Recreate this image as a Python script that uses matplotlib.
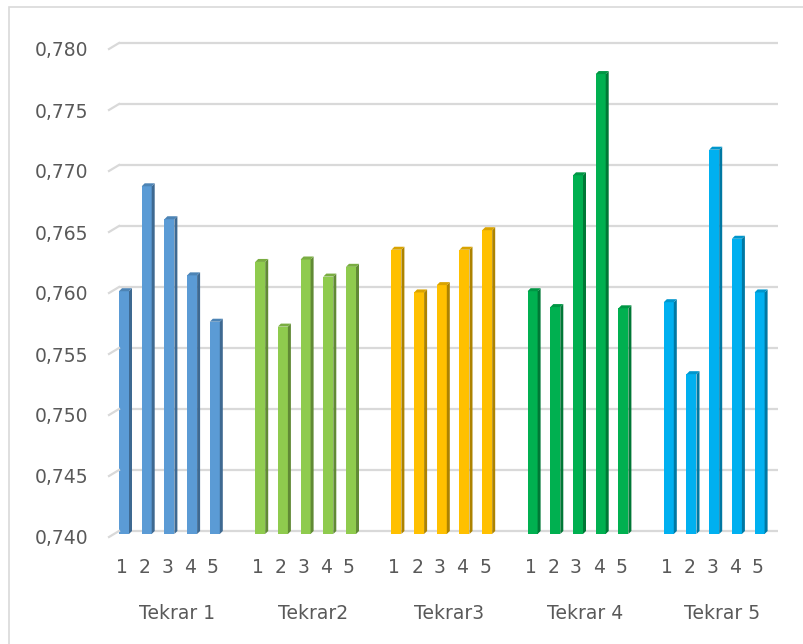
import matplotlib
matplotlib.use("Agg")
import matplotlib.pyplot as plt
import matplotlib.transforms as mtransforms
from matplotlib.patches import Polygon, Rectangle
import numpy as np

# ---- data -------------------------------------------------------------
groups = ["Tekrar 1", "Tekrar2", "Tekrar3", "Tekrar 4", "Tekrar 5"]
runs = ["1", "2", "3", "4", "5"]
tekrar1 = [0.7599, 0.7685, 0.7658, 0.7612, 0.7574]
tekrar2 = [0.7623, 0.7570, 0.7625, 0.7611, 0.7619]
tekrar3 = [0.7633, 0.7598, 0.7604, 0.7633, 0.7649]
tekrar4 = [0.7599, 0.7586, 0.7694, 0.7777, 0.7585]
tekrar5 = [0.7590, 0.7531, 0.7715, 0.7642, 0.7598]
series = [tekrar1, tekrar2, tekrar3, tekrar4, tekrar5]
yticks = [0.740, 0.745, 0.750, 0.755, 0.760, 0.765, 0.770, 0.775, 0.780]

face_colors = ["#5B9BD5", "#8FCB4E", "#FFC000", "#00B050", "#00B0F0"]

# ---- figure / axes geometry (pixels) ---------------------------------
W, H, DPI = 804, 644, 100
fig = plt.figure(figsize=(W / DPI, H / DPI), dpi=DPI)
fig.patch.set_facecolor("white")

ax_left, ax_right = 109, 778
ax_top, ax_bot = 46, 534
ax = fig.add_axes([ax_left / W, (H - ax_bot) / H,
                   (ax_right - ax_left) / W, (ax_bot - ax_top) / H])
ax.set_facecolor("none")
for sp in ax.spines.values():
    sp.set_visible(False)

ymin, ymax = 0.740, 0.780
slot_px = 22.7
first_px = 125.5
xlim = ((ax_left - first_px) / slot_px, (ax_right - first_px) / slot_px)
ax.set_xlim(*xlim)
ax.set_ylim(ymin, ymax)

# pixel -> data unit conversions
px_x = (xlim[1] - xlim[0]) / (ax_right - ax_left)
px_y = (ymax - ymin) / (ax_bot - ax_top)

TEXT = "#595959"
GRID = "#D9D9D9"
FONT = "DejaVu Sans"
FS = 13.5

# ---- back-wall gridlines with a short slanted floor edge ---------------
depth = 3  # px
up = mtransforms.ScaledTranslation(0, depth / DPI, fig.dpi_scale_trans)
down = mtransforms.ScaledTranslation(0, -depth / DPI, fig.dpi_scale_trans)
blend = mtransforms.blended_transform_factory(ax.transAxes, ax.transData)
wall_x = 10 / (ax_right - ax_left)
inv = fig.transFigure.inverted()
for v in yticks:
    ax.plot([wall_x, 1.0], [v, v], color=GRID, lw=1.6,
            transform=blend + up, clip_on=False, zorder=1,
            solid_capstyle="butt")
    # slant from front edge to back wall
    q0 = inv.transform((blend + down).transform((0, v)))
    q1 = inv.transform((blend + up).transform((wall_x, v)))
    fig.add_artist(plt.Line2D([q0[0], q1[0]], [q0[1], q1[1]],
                              color=GRID, lw=1.6, zorder=1))

# ---- y tick labels ----------------------------------------------------
ax.set_yticks(yticks)
ax.set_yticklabels([f"{t:.3f}".replace(".", ",") for t in yticks],
                   fontsize=FS, color=TEXT, family=FONT)
ax.tick_params(axis="y", length=0, pad=21 * 0.72)
for lab in ax.get_yticklabels():
    lab.set_transform(lab.get_transform() + down)
ax.set_xticks([])

# ---- bars (front face + side + top cap) -------------------------------
def shade(hexcol, f):
    c = np.array(matplotlib.colors.to_rgb(hexcol))
    return tuple(np.clip(c * f, 0, 1))

face_px = 10
face_w = face_px * px_x
side_w = 3 * px_x
dy = depth * px_y
for g, (vals, col) in enumerate(zip(series, face_colors)):
    xs = np.arange(len(vals)) + g * 6
    heights = np.array(vals) - ymin
    ax.bar(xs - 6.5 * px_x, heights, width=face_w, bottom=ymin,
           align="edge", color=col, zorder=3, linewidth=0)
    for x, v in zip(xs, vals):
        xl = x - 6.5 * px_x
        xr = xl + face_w
        side = Polygon([(xr, ymin), (xr + side_w, ymin + dy),
                        (xr + side_w, v + dy), (xr, v)],
                       closed=True, facecolor=shade(col, 0.68),
                       edgecolor="none", zorder=3)
        ax.add_patch(side)
        cap = Polygon([(xl, v), (xr, v), (xr + side_w, v + dy),
                       (xl + side_w, v + dy)],
                      closed=True, facecolor=shade(col, 0.85),
                      edgecolor="none", zorder=4)
        ax.add_patch(cap)

    # run numbers under each bar
    for x, r in zip(xs, runs):
        ax.annotate(r, xy=(x, ymin), xycoords="data",
                    xytext=(-3.5 * 0.72, -(568 - ax_bot) * 0.72),
                    textcoords="offset points", ha="center", va="center",
                    fontsize=FS, color=TEXT, family=FONT,
                    annotation_clip=False)
    # group label
    ax.annotate(groups[g], xy=(xs.mean(), ymin), xycoords="data",
                xytext=(6 * 0.72, -(614 - ax_bot) * 0.72),
                textcoords="offset points", ha="center", va="center",
                fontsize=FS, color=TEXT, family=FONT,
                annotation_clip=False)

# ---- chart frame --------------------------------------------------------
fig.add_artist(Rectangle((9 / W, -0.05), 1.1, (H - 7) / H + 0.05,
                         transform=fig.transFigure, fill=False,
                         edgecolor=GRID, lw=1.2))

fig.savefig("out.png", dpi=DPI)
